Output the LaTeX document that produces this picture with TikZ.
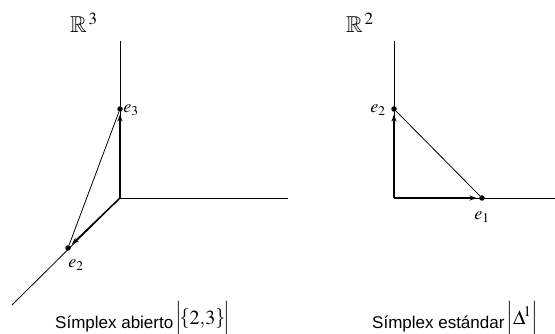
\documentclass[tikz,border=0pt]{standalone}
\usepackage{amssymb}
\usepackage{mathptmx}
\usepackage{fontspec}
\setmainfont{Liberation Sans}
\usetikzlibrary{arrows.meta}
\newcommand{\mstrut}[2]{\vrule height #1 depth #2 width 0pt}
\newcommand{\capmath}[1]{\raisebox{4pt}{\fontsize{20}{24}\selectfont$#1$}}
\tikzset{
  axisline/.style={line width=0.8pt},
  vecarrow/.style={line width=1.4pt,-{Stealth[length=7pt,width=5pt]},shorten >=2.5pt},
  sideline/.style={line width=0.8pt},
  vdot/.style={circle,fill,inner sep=0pt,minimum size=5.5pt},
  lbl/.style={inner sep=0pt,font=\fontsize{18}{21}\selectfont},
  captxt/.style={inner sep=0pt,font=\fontsize{17}{20}\selectfont,anchor=base west},
  spacelbl/.style={inner sep=0pt,font=\fontsize{23}{26}\selectfont},
}
\begin{document}
\begin{tikzpicture}[x=1pt,y=-1pt]
\useasboundingbox (0,0) rectangle (555,334);
% left diagram
\coordinate (O1) at (120,198);
\coordinate (zt) at (120,41);
\coordinate (xr) at (288,198);
\coordinate (dl) at (12,305);
\node[vdot] (e3) at (120,109) {};
\node[vdot] (e2l) at (68,248) {};
\draw[axisline] (O1) -- (zt);
\draw[axisline] (O1) -- (xr);
\draw[axisline] (O1) -- (dl);
\draw[vecarrow] (O1) -- (e3);
\draw[vecarrow] (O1) -- (e2l);
\draw[sideline] (e2l) -- (e3);
\node[lbl] (le3) at (131,110) {$e_3$};
\node[lbl] (le2l) at (76,265) {$e_2$};
\node[spacelbl] (R3) at (84,23) {$\mathbb{R}^{\,3}$};
\node[captxt] (c1) at (55,328) {Símplex abierto\hspace{2pt}\capmath{\left|\mstrut{19pt}{9pt}\!\left\{2{,}3\mstrut{15pt}{6pt}\right\}\!\right|}};
% right diagram
\coordinate (O2) at (394,198);
\coordinate (yt) at (394,41);
\coordinate (xr2) at (555,198);
\node[vdot] (e2r) at (394,109) {};
\node[vdot] (e1) at (482,198) {};
\draw[axisline] (O2) -- (yt);
\draw[axisline] (O2) -- (xr2);
\draw[vecarrow] (O2) -- (e2r);
\draw[vecarrow] (O2) -- (e1);
\draw[sideline] (e2r) -- (e1);
\node[lbl] (le2r) at (378,110) {$e_2$};
\node[lbl] (le1) at (482,217) {$e_1$};
\node[spacelbl] (R2) at (360,23) {$\mathbb{R}^{\,2}$};
\node[captxt] (c2) at (372,328) {Símplex estándar\hspace{2pt}\capmath{\left|\mstrut{19pt}{9pt}\Delta^{\!1}\right|}};
\end{tikzpicture}
\end{document}
